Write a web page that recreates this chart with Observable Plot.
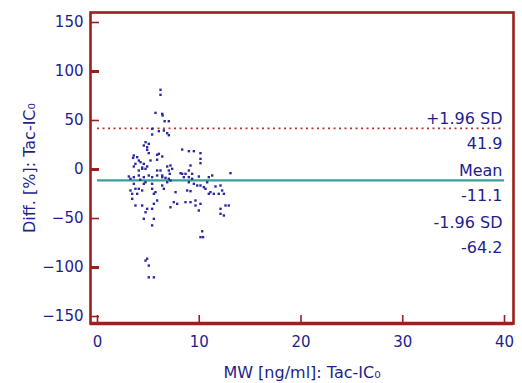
<!DOCTYPE html>
<html>
<head>
<meta charset="utf-8">
<script src="https://cdn.jsdelivr.net/npm/d3@7"></script>
<script src="https://cdn.jsdelivr.net/npm/@observablehq/plot@0.6"></script>
<style>
  html, body { margin: 0; padding: 0; background: #fff; }
</style>
</head>
<body>
<div id="chart"></div>
<script>
// ---- data ----
const mwValues = [
  6.19, 6.19, 5.70, 6.36, 6.40, 6.60, 7.01, 5.37, 6.03, 6.52, 6.85, 7.01, 5.37,
  4.72, 5.04, 4.55, 4.88, 4.88, 5.04,
  8.32, 8.98, 9.47, 10.12, 10.12, 10.12,
  3.57, 3.50, 3.90, 4.06, 3.73, 4.23, 4.55, 3.57, 4.39,
  5.86, 6.03, 6.36, 5.86,
  5.21, 4.88, 4.72, 4.39, 4.06,
  6.85, 7.17, 7.34, 7.01, 7.10,
  5.86, 6.19, 6.36,
  9.14, 8.98, 9.30, 8.16, 8.65, 8.32,
  3.08, 3.57, 4.06, 4.55, 5.04, 5.37, 5.86, 6.36, 7.01, 6.68, 8.48, 8.98, 9.30, 9.96, 10.94, 11.27, 13.07, 3.24, 4.20,
  3.57, 3.24, 3.73, 4.06, 3.41, 3.90, 4.39, 4.55, 4.72, 5.37, 5.37, 5.54, 5.70, 5.86, 5.54, 6.36, 6.52, 6.85, 7.17, 7.67, 7.50, 7.17, 3.73, 4.39, 4.88, 4.72, 5.37, 4.55, 5.54, 3.41, 5.37, 7.83,
  8.98, 9.47, 9.80, 10.12, 10.45, 10.78, 10.61, 10.94, 11.10, 11.43, 11.92, 12.09, 12.25, 12.42, 8.81, 8.65, 9.14, 9.63, 10.12, 9.96, 12.09, 12.58, 12.90, 12.09, 12.42, 9.14, 9.63, 11.60,
  10.29, 10.12, 10.37, 4.88, 4.72, 5.04, 5.04, 5.54
];
const diffValues = [
  81.3, 76.2, 57.8, 56.8, 55.1, 49.3, 49.3, 41.5, 39.1, 39.8, 37.1, 35.0, 35.7,
  27.9, 26.2, 24.5, 22.8, 20.1, 16.7,
  20.4, 18.7, 18.7, 16.7, 10.9, 6.5,
  14.3, 11.9, 12.6, 9.2, 5.8, 7.5, 5.8, 3.1, 2.0,
  15.0, 16.0, 13.3, 10.0,
  9.2, 3.1, 0.7, 0.7, -1.0,
  3.1, 4.1, 0.7, -1.0, -4.4,
  -1.0, -1.0, -6.1,
  4.1, -1.0, -4.4, -3.7, -4.4, -4.4,
  -7.1, -7.8, -6.1, -7.8, -6.1, -7.8, -6.1, -7.8, -9.5, -8.5, -7.8, -7.8, -9.5, -7.1, -7.8, -6.1, -3.7, -9.5, -10.5,
  -14.6, -21.4, -19.7, -19.7, -24.8, -24.8, -21.4, -14.6, -13.0, -14.6, -19.7, -24.8, -23.1, -31.6, -35.0, -16.3, -19.7, -13.0, -11.2, -23.1, -33.3, -38.5, -36.7, -36.7, -40.1, -43.6, -40.1, -50.3, -50.3, -29.9, -57.0, -35.0,
  -13.0, -14.6, -16.3, -16.3, -18.0, -13.0, -19.7, -24.8, -23.1, -24.8, -24.8, -16.3, -21.4, -24.8, -21.4, -33.3, -33.3, -36.7, -35.0, -41.8, -40.1, -36.7, -36.7, -45.2, -46.9, -22.1, -31.6, -17.3,
  -63.0, -69.0, -69.0, -91.0, -92.9, -98.0, -110.0, -110.0
];
const bandNames = ["+1.96 SD", "Mean", "-1.96 SD"];
const bandValues = [41.9, -11.1, -64.2];
const bandTexts = ["41.9", "-11.1", "-64.2"];
const xTickValues = [0, 10, 20, 30, 40];
const yTickValues = [150, 100, 50, 0, -50, -100, -150];
const yMajorTicks = [100, 0, -100];
const yMinorTicks = [150, 50, -50, -150];
const xLabel = "MW [ng/ml]: Tac-IC\u2080";
const yLabel = "Diff. [%]: Tac-IC\u2080";

// ---- table built from arrays ----
const points = mwValues.map((x, i) => ({x, y: diffValues[i]}));
const bands = bandNames.map((name, i) => ({name, value: bandValues[i], text: bandTexts[i]}));

const navy = "#1e1e8c";
const frameRed = "#9c1f1f";
const W = 522, H = 383;
const mL = 90, mR = 9, mT = 12, mB = 60;
const plotW = W - mL - mR, plotH = H - mT - mB;

const chart = Plot.plot({
  width: W,
  height: H,
  marginLeft: mL,
  marginRight: mR,
  marginTop: mT,
  marginBottom: mB,
  style: {fontFamily: "DejaVu Sans", fontSize: "15px", color: navy, background: "#fff"},
  x: {domain: [-0.688, 40.885]},
  y: {domain: [-157.1, 160.2]},
  marks: [
    Plot.axisX(xTickValues, {tickSize: 0, tickPadding: 13, label: null, fontSize: 15}),
    Plot.axisY(yTickValues, {tickSize: 0, tickPadding: 7, label: null, fontSize: 15}),
    // inward ticks
    Plot.tickY(yMajorTicks, {y: d => d, stroke: frameRed, strokeWidth: 3, insetRight: plotW - 9}),
    Plot.tickY(yMinorTicks, {y: d => d, stroke: frameRed, strokeWidth: 1.6, insetRight: plotW - 9}),
    Plot.tickX(xTickValues, {x: d => d, stroke: frameRed, strokeWidth: 1.6, insetTop: plotH - 8}),
    // limits of agreement
    Plot.ruleY([bands[0]], {y: "value", x1: 0, x2: 40, stroke: "#b83232", strokeWidth: 1.8, strokeDasharray: "2,3.5"}),
    Plot.ruleY([bands[1]], {y: "value", x1: 0, x2: 40, stroke: "#3a9f9a", strokeWidth: 2.2}),
    // data points
    Plot.dot(points, {x: "x", y: "y", r: 1.35, symbol: "square", fill: "#2a2aa0", stroke: null}),
    // band labels
    Plot.text(bands, {x: () => 40, y: "value", text: "name", textAnchor: "end", dx: -2, dy: -10, fill: navy, fontSize: 16}),
    Plot.text(bands, {x: () => 40, y: "value", text: "text", textAnchor: "end", dx: -2, dy: 15, fill: navy, fontSize: 16}),
    // axis titles
    Plot.text([xLabel], {frameAnchor: "bottom", textAnchor: "middle", text: d => d, dy: 54, fill: navy, fontSize: 16}),
    Plot.text([yLabel], {frameAnchor: "left", textAnchor: "middle", text: d => d, dx: -61, rotate: -90, fill: navy, fontSize: 16}),
    Plot.frame({stroke: frameRed, strokeWidth: 2.6}),
    Plot.ruleY([0], {y: () => -157.1, stroke: frameRed, strokeWidth: 3.5})
  ]
});
document.getElementById("chart").appendChild(chart);
</script>
</body>
</html>
